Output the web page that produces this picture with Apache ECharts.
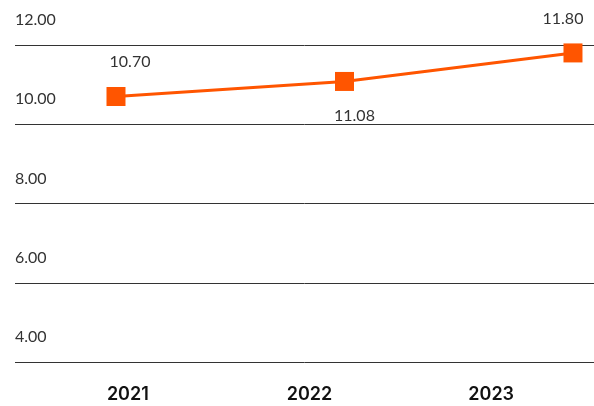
<!DOCTYPE html>
<html>
<head>
<meta charset="utf-8">
<script src="https://cdn.jsdelivr.net/npm/echarts@6/dist/echarts.min.js"></script>
<style>
  html, body { margin: 0; padding: 0; background: #fff; }
  #chart { width: 594px; height: 406px; }
</style>
</head>
<body>
<div id="chart"></div>
<script>
// Yearly values
const years = ['2021', '2022', '2023'];
const values = [10.70, 11.08, 11.80];
const yTicks = { min: 4, max: 12, step: 2 };

// Label placement for each point (above / below the marker)
const labelSides = ['top', 'bottom', 'top'];
const labelShift = [[14, 0], [10, 0], [-10, 0]];

const chart = echarts.init(document.getElementById('chart'));

const numFont = { fontFamily: 'Lato', fontWeight: 400, fontSize: 16, color: '#333' };

chart.setOption({
  animation: false,
  backgroundColor: '#ffffff',
  grid: [
    { left: 15, right: 0, top: 45, bottom: 44 },
    { left: 37, right: 12, top: 45, bottom: 44 }
  ],
  xAxis: [
    {
      type: 'value', gridIndex: 0, show: false,
      min: -0.442, max: 2.092
    },
    {
      type: 'category', gridIndex: 1, data: years,
      axisLine: { show: false }, axisTick: { show: false },
      axisLabel: {
        margin: 24, fontFamily: 'Inter', fontWeight: 600,
        fontSize: 18, color: '#111'
      }
    }
  ],
  yAxis: [
    {
      type: 'value', gridIndex: 0,
      min: yTicks.min, max: yTicks.max, interval: yTicks.step,
      axisLine: { show: false }, axisTick: { show: false },
      splitLine: { show: true, lineStyle: { color: '#333', width: 1 } },
      axisLabel: Object.assign({
        inside: true, margin: 0, align: 'left', verticalAlign: 'bottom',
        lineHeight: 16, padding: [0, 0, 17, 0],
        formatter: v => v.toFixed(2)
      }, numFont)
    },
    { type: 'value', gridIndex: 1, show: false, min: yTicks.min, max: yTicks.max }
  ],
  series: [{
    type: 'line',
    xAxisIndex: 0, yAxisIndex: 0,
    data: values.map((v, i) => ({
      value: [i, v],
      label: { position: labelSides[i], offset: labelShift[i] }
    })),
    symbol: 'rect',
    symbolSize: 19,
    lineStyle: { color: '#ff5500', width: 3 },
    itemStyle: { color: '#ff5500' },
    label: Object.assign({
      show: true, distance: 17,
      formatter: p => p.value[1].toFixed(2)
    }, numFont)
  }]
});
</script>
</body>
</html>
